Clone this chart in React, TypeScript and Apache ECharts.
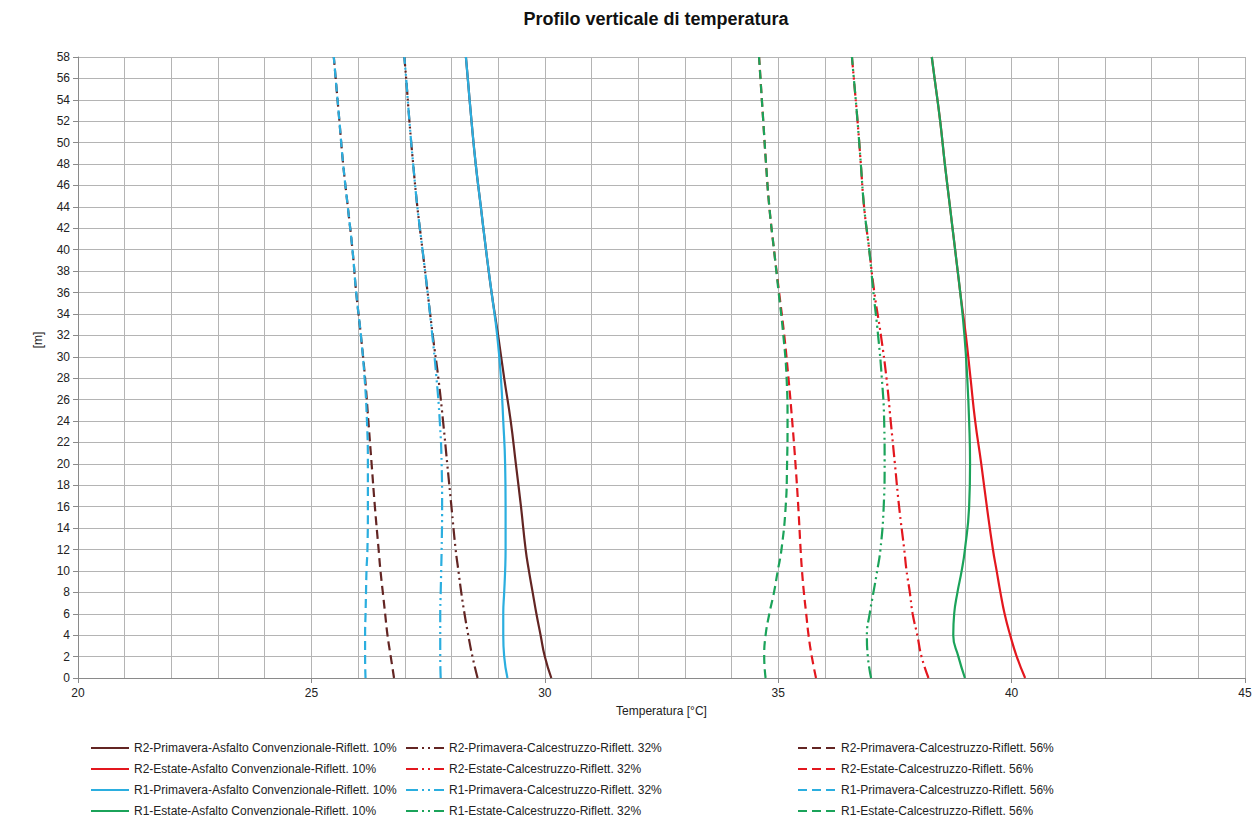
import React, { useEffect, useRef } from "react";
import * as echarts from "echarts";

const heights = [0, 2, 4, 6, 8, 10, 12, 16, 20, 24, 28, 32, 36, 40, 44, 48, 52, 56, 58];

const r2PriAsf = [30.14, 30.0, 29.91, 29.82, 29.74, 29.66, 29.59, 29.49, 29.38, 29.27, 29.13, 29.0, 28.86, 28.74, 28.63, 28.52, 28.43, 28.35, 28.31];
const r2PriC32 = [28.56, 28.45, 28.36, 28.28, 28.21, 28.15, 28.09, 28.0, 27.91, 27.82, 27.72, 27.6, 27.49, 27.38, 27.27, 27.18, 27.1, 27.03, 26.99];
const r2PriC56 = [26.77, 26.7, 26.63, 26.58, 26.53, 26.48, 26.44, 26.36, 26.29, 26.22, 26.15, 26.06, 25.96, 25.88, 25.78, 25.68, 25.6, 25.52, 25.48];

const r2EstAsf = [40.29, 40.11, 39.97, 39.85, 39.76, 39.68, 39.6, 39.47, 39.35, 39.22, 39.12, 39.02, 38.9, 38.79, 38.68, 38.57, 38.47, 38.35, 38.29];
const r2EstC32 = [38.22, 38.07, 37.98, 37.88, 37.82, 37.75, 37.7, 37.59, 37.5, 37.41, 37.32, 37.2, 37.06, 36.95, 36.84, 36.77, 36.7, 36.62, 36.58];
const r2EstC56 = [35.81, 35.72, 35.65, 35.6, 35.55, 35.51, 35.48, 35.43, 35.37, 35.3, 35.22, 35.13, 35.02, 34.91, 34.81, 34.74, 34.68, 34.62, 34.59];

const r1PriAsf = [29.2, 29.13, 29.11, 29.11, 29.13, 29.15, 29.16, 29.16, 29.15, 29.11, 29.06, 28.98, 28.86, 28.74, 28.63, 28.52, 28.43, 28.35, 28.31];
const r1PriC32 = [27.77, 27.76, 27.76, 27.76, 27.77, 27.78, 27.79, 27.8, 27.79, 27.75, 27.68, 27.59, 27.49, 27.38, 27.27, 27.18, 27.1, 27.03, 26.99];
const r1PriC56 = [26.16, 26.15, 26.15, 26.16, 26.17, 26.18, 26.2, 26.21, 26.21, 26.19, 26.14, 26.06, 25.96, 25.88, 25.78, 25.68, 25.6, 25.52, 25.48];

const r1EstAsf = [39.0, 38.86, 38.75, 38.77, 38.84, 38.93, 39.0, 39.09, 39.11, 39.09, 39.05, 38.99, 38.9, 38.79, 38.68, 38.57, 38.47, 38.35, 38.29];
const r1EstC32 = [36.99, 36.92, 36.9, 36.96, 37.04, 37.12, 37.19, 37.26, 37.28, 37.27, 37.22, 37.14, 37.04, 36.95, 36.84, 36.77, 36.7, 36.62, 36.58];
const r1EstC56 = [34.73, 34.7, 34.73, 34.81, 34.91, 34.99, 35.07, 35.16, 35.19, 35.2, 35.18, 35.11, 35.01, 34.91, 34.81, 34.74, 34.68, 34.62, 34.59];

const yTicks = [0, 58, 2];
const xTicks = [20, 45, 5];

const BROWN = "#632523";
const RED = "#E3171E";
const BLUE = "#2BAEDF";
const GREEN = "#1BA35A";

const SOLID = "solid";
const DASHDOT = [12, 4, 2, 4, 2, 4];
const DASHED = [9, 5];

const seriesDefs = [
  { name: "R2-Primavera-Asfalto Convenzionale-Riflett. 10%", data: r2PriAsf, color: BROWN, type: SOLID, col: 0 },
  { name: "R2-Primavera-Calcestruzzo-Riflett. 32%", data: r2PriC32, color: BROWN, type: DASHDOT, col: 1 },
  { name: "R2-Primavera-Calcestruzzo-Riflett. 56%", data: r2PriC56, color: BROWN, type: DASHED, col: 2 },
  { name: "R2-Estate-Asfalto Convenzionale-Riflett. 10%", data: r2EstAsf, color: RED, type: SOLID, col: 0 },
  { name: "R2-Estate-Calcestruzzo-Riflett. 32%", data: r2EstC32, color: RED, type: DASHDOT, col: 1 },
  { name: "R2-Estate-Calcestruzzo-Riflett. 56%", data: r2EstC56, color: RED, type: DASHED, col: 2 },
  { name: "R1-Primavera-Asfalto Convenzionale-Riflett. 10%", data: r1PriAsf, color: BLUE, type: SOLID, col: 0 },
  { name: "R1-Primavera-Calcestruzzo-Riflett. 32%", data: r1PriC32, color: BLUE, type: DASHDOT, col: 1 },
  { name: "R1-Primavera-Calcestruzzo-Riflett. 56%", data: r1PriC56, color: BLUE, type: DASHED, col: 2 },
  { name: "R1-Estate-Asfalto Convenzionale-Riflett. 10%", data: r1EstAsf, color: GREEN, type: SOLID, col: 0 },
  { name: "R1-Estate-Calcestruzzo-Riflett. 32%", data: r1EstC32, color: GREEN, type: DASHDOT, col: 1 },
  { name: "R1-Estate-Calcestruzzo-Riflett. 56%", data: r1EstC56, color: GREEN, type: DASHED, col: 2 },
];

const FONT = "'Liberation Sans', Arial, sans-serif";
const GRID_COLOR = "#b4b4b4";

export default function App() {
  const ref = useRef<HTMLDivElement>(null);
  useEffect(() => {
    document.body.style.margin = "0";
    if (!ref.current) return;
    const chart = echarts.init(ref.current, undefined, { renderer: "svg" });
    const legendLefts = [85, 400, 792];
    const legends = [0, 1, 2].map((c) => ({
      orient: "vertical",
      left: legendLefts[c],
      top: 737,
      itemWidth: 38,
      itemHeight: 14,
      itemGap: 9,
      itemStyle: { opacity: 0 },
      textStyle: { fontFamily: FONT, fontSize: 12, color: "#222" },
      data: seriesDefs.filter((s) => s.col === c).map((s) => s.name),
    }));
    chart.setOption({
      animation: false,
      backgroundColor: "#fff",
      title: {
        text: "Profilo verticale di temperatura",
        left: 651,
        top: 5,
        textAlign: "center",
        textStyle: { fontFamily: FONT, fontSize: 18, fontWeight: "bold", color: "#111" },
      },
      legend: legends,
      grid: { left: 78, right: 12, top: 57, bottom: 148, containLabel: false },
      xAxis: {
        type: "value",
        min: xTicks[0],
        max: xTicks[1],
        interval: xTicks[2],
        name: "Temperatura [°C]",
        nameLocation: "middle",
        nameGap: 27,
        nameTextStyle: { fontFamily: FONT, fontSize: 12, color: "#222" },
        axisLine: { show: true, lineStyle: { color: "#8a8a8a", width: 1 } },
        axisTick: { show: true, length: 5, lineStyle: { color: "#8a8a8a" } },
        axisLabel: { fontFamily: FONT, fontSize: 12, color: "#222", margin: 9 },
        splitLine: { show: true, lineStyle: { color: GRID_COLOR, width: 1 } },
        minorTick: { show: false, splitNumber: 5 },
        minorSplitLine: { show: true, lineStyle: { color: GRID_COLOR, width: 1 } },
      },
      yAxis: {
        type: "value",
        min: yTicks[0],
        max: yTicks[1],
        interval: yTicks[2],
        axisLine: { show: true, lineStyle: { color: "#8a8a8a", width: 1 } },
        axisTick: { show: true, length: 5, lineStyle: { color: "#8a8a8a" } },
        axisLabel: { fontFamily: FONT, fontSize: 12, color: "#222", margin: 8 },
        splitLine: { show: true, lineStyle: { color: GRID_COLOR, width: 1 } },
      },
      graphic: [
        {
          type: "text",
          x: 38,
          y: 340,
          rotation: Math.PI / 2,
          style: {
            text: "[m]",
            fontFamily: FONT,
            fontSize: 12,
            fill: "#222",
            textAlign: "center",
            textVerticalAlign: "middle",
          },
        },
      ],
      series: seriesDefs.map((s) => ({
        name: s.name,
        type: "line",
        smooth: 0.5,
        symbol: "none",
        showSymbol: false,
        color: s.color,
        lineStyle: { color: s.color, width: 2.2, type: s.type },
        itemStyle: { color: s.color },
        data: s.data.map((t, i) => [t, heights[i]]),
      })),
    });
    return () => chart.dispose();
  }, []);
  return <div ref={ref} style={{ width: 1257, height: 826 }} />;
}
